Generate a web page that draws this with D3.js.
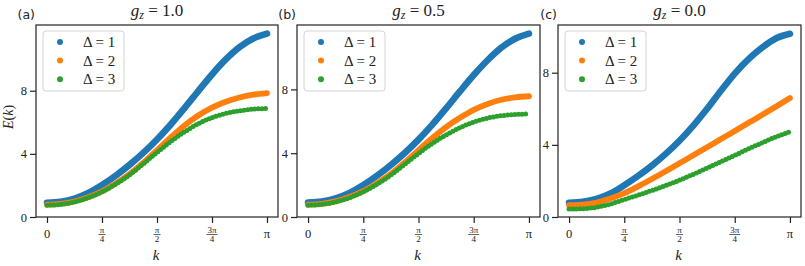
<!DOCTYPE html>
<html lang="en">
<head>
<meta charset="utf-8">
<title>E(k) for three g_z values</title>
<script src="https://d3js.org/d3.v7.min.js"></script>
<style>
  body { margin: 0; background: #fff; }
</style>
</head>
<body>
<script>
// k in units of pi
var kOverPi = [0, 1/16, 2/16, 3/16, 4/16, 5/16, 6/16, 7/16, 8/16,
               9/16, 10/16, 11/16, 12/16, 13/16, 14/16, 15/16, 1];

// g_z = 1.0
var gz10_d1 = [0.90, 0.97, 1.17, 1.52, 2.02, 2.62, 3.30, 4.06, 4.91, 5.86, 6.90, 7.98, 9.03, 9.98, 10.76, 11.31, 11.62];
var gz10_d2 = [0.78, 0.83, 0.98, 1.25, 1.62, 2.12, 2.72, 3.44, 4.24, 5.04, 5.80, 6.43, 6.93, 7.30, 7.57, 7.75, 7.85];
var gz10_d3 = [0.75, 0.80, 0.95, 1.22, 1.60, 2.09, 2.67, 3.37, 4.09, 4.78, 5.39, 5.91, 6.30, 6.56, 6.73, 6.83, 6.87];
// g_z = 0.5
var gz05_d1 = [0.90, 0.97, 1.17, 1.51, 2.00, 2.59, 3.26, 4.01, 4.85, 5.79, 6.81, 7.87, 8.90, 9.83, 10.62, 11.18, 11.50];
var gz05_d2 = [0.78, 0.83, 0.98, 1.25, 1.62, 2.12, 2.71, 3.42, 4.19, 4.95, 5.64, 6.22, 6.72, 7.09, 7.35, 7.50, 7.57];
var gz05_d3 = [0.74, 0.79, 0.94, 1.21, 1.58, 2.06, 2.63, 3.30, 3.98, 4.61, 5.15, 5.60, 5.95, 6.20, 6.35, 6.43, 6.46];
// g_z = 0.0
var gz00_d1 = [0.79, 0.84, 1.00, 1.30, 1.76, 2.28, 2.85, 3.50, 4.23, 5.07, 6.00, 7.00, 7.95, 8.75, 9.40, 9.91, 10.16];
var gz00_d2 = [0.66, 0.69, 0.80, 1.02, 1.32, 1.70, 2.11, 2.54, 2.98, 3.42, 3.87, 4.32, 4.77, 5.22, 5.67, 6.13, 6.60];
var gz00_d3 = [0.44, 0.46, 0.54, 0.72, 0.97, 1.21, 1.47, 1.74, 2.04, 2.37, 2.72, 3.07, 3.42, 3.78, 4.12, 4.45, 4.72];

var gzLabels = ["1.0", "0.5", "0.0"];
var panelLabels = ["(a)", "(b)", "(c)"];
var deltas = [1, 2, 3];
var seriesByPanel = [
  [gz10_d1, gz10_d2, gz10_d3],
  [gz05_d1, gz05_d2, gz05_d3],
  [gz00_d1, gz00_d2, gz00_d3]
];
var yTicks = [0, 4, 8];
var xTicks = [0, 0.25, 0.5, 0.75, 1];
var xTickLabels = [["0"], ["π", "4"], ["π", "2"], ["3π", "4"], ["π"]];

var colors = ["#1f77b4", "#ff7f0e", "#2ca02c"];
var serif = "'Liberation Serif', 'DejaVu Serif', serif";
var sans = "'DejaVu Sans', sans-serif";
var ink = "#222";

var w = 805, h = 266;
var plotTop = 25, plotBottom = 217;
var panels = [[36, 278], [297, 540], [558, 801]];

var svg = d3.select("body").append("svg")
  .attr("width", w).attr("height", h);

function addText(sel, family, size) {
  return sel.append("text")
    .style("font-family", family)
    .style("font-size", size + "px")
    .attr("fill", ink);
}

panels.forEach(function(p, pi) {
  var left = p[0], right = p[1];
  var series = seriesByPanel[pi];
  var all = d3.merge(series);
  var ymin = d3.min(all), ymax = d3.max(all);

  var x = d3.scaleLinear()
    .domain([-0.05 * Math.PI, 1.05 * Math.PI])
    .range([left, right]);
  var y = d3.scaleLinear()
    .domain([0, ymax + 0.05 * (ymax - ymin)])
    .range([plotBottom, plotTop]);

  var g = svg.append("g");

  // y axis
  var yAxis = d3.axisLeft(y).tickValues(yTicks).tickSize(6).tickPadding(3)
    .tickFormat(d3.format("d"));
  var ya = g.append("g").attr("transform", "translate(" + left + ",0)").call(yAxis);
  ya.select(".domain").remove();
  ya.selectAll("line").attr("stroke", ink).attr("stroke-width", 1.2);
  ya.selectAll("text")
    .style("font-family", serif).style("font-size", "12.5px").attr("fill", ink);

  // x axis, labels drawn by hand for the fractions
  var xAxis = d3.axisBottom(x).tickValues(xTicks.map(function(t) { return t * Math.PI; }))
    .tickSize(6).tickFormat("");
  var xa = g.append("g").attr("transform", "translate(0," + plotBottom + ")").call(xAxis);
  xa.select(".domain").remove();
  xa.selectAll("line").attr("stroke", ink).attr("stroke-width", 1.2);

  xTicks.forEach(function(t, i) {
    var lab = xTickLabels[i];
    var cx = x(t * Math.PI);
    if (lab.length === 1) {
      addText(g, serif, 12.5)
        .attr("x", cx).attr("y", plotBottom + 21)
        .attr("text-anchor", "middle")
        .text(lab[0]);
    } else {
      addText(g, serif, 9)
        .attr("x", cx).attr("y", plotBottom + 16)
        .attr("text-anchor", "middle")
        .text(lab[0]);
      g.append("line")
        .attr("x1", cx - (lab[0].length > 1 ? 5.5 : 3.5)).attr("x2", cx + (lab[0].length > 1 ? 5.5 : 3.5))
        .attr("y1", plotBottom + 17.5).attr("y2", plotBottom + 17.5)
        .attr("stroke", ink).attr("stroke-width", 0.7);
      addText(g, serif, 9)
        .attr("x", cx).attr("y", plotBottom + 25)
        .attr("text-anchor", "middle")
        .text(lab[1]);
    }
  });

  // curves
  var line = d3.line()
    .x(function(d, i) { return x(kOverPi[i] * Math.PI); })
    .y(function(d) { return y(d); })
    .curve(d3.curveMonotoneX);

  var widths = [6.6, 5.8, 5];
  series.forEach(function(s, si) {
    var path = g.append("path")
      .datum(s)
      .attr("d", line)
      .attr("fill", "none")
      .attr("stroke", colors[si])
      .attr("stroke-width", widths[si])
      .attr("stroke-linecap", "round")
      .attr("stroke-linejoin", "round");
    if (si === 2) path.attr("stroke-dasharray", "0 3.6");
  });

  // frame
  g.append("rect")
    .attr("x", left).attr("y", plotTop)
    .attr("width", right - left).attr("height", plotBottom - plotTop)
    .attr("fill", "none").attr("stroke", ink).attr("stroke-width", 1.2);

  // legend
  var lg = g.append("g").attr("transform", "translate(" + (left + 7) + ",31)");
  lg.append("rect")
    .attr("width", 81).attr("height", 60).attr("rx", 3)
    .attr("fill", "#fff").attr("fill-opacity", 0.8)
    .attr("stroke", "#d4d4d4").attr("stroke-width", 1);
  deltas.forEach(function(dl, di) {
    var yy = 11 + di * 18.6;
    lg.append("circle").attr("cx", 17).attr("cy", yy).attr("r", 3)
      .attr("fill", colors[di]);
    addText(lg, serif, 15)
      .attr("x", 40).attr("y", yy + 5)
      .text("Δ = " + dl);
  });

  // title
  var title = addText(g, serif, 17)
    .attr("x", (left + right) / 2).attr("y", 16)
    .attr("text-anchor", "middle");
  title.append("tspan").attr("font-style", "italic").text("g");
  title.append("tspan").attr("font-style", "italic").attr("dy", 3).style("font-size", "12px").text("z");
  title.append("tspan").attr("dy", -3).text(" = " + gzLabels[pi]);

  // panel label
  addText(g, sans, 12.5)
    .attr("x", left - 1).attr("y", 19)
    .attr("text-anchor", "end")
    .text(panelLabels[pi]);

  // x label
  addText(g, serif, 15)
    .attr("x", (left + right) / 2 - 1).attr("y", 260)
    .attr("text-anchor", "middle")
    .attr("font-style", "italic").text("k");

  if (pi === 0) {
    var yl = addText(g, serif, 14)
      .attr("transform", "translate(13," + ((plotTop + plotBottom) / 2 - 4) + ") rotate(-90)")
      .attr("text-anchor", "middle");
    yl.append("tspan").attr("font-style", "italic").text("E");
    yl.append("tspan").text("(");
    yl.append("tspan").attr("font-style", "italic").text("k");
    yl.append("tspan").text(")");
  }
});
</script>
</body>
</html>
